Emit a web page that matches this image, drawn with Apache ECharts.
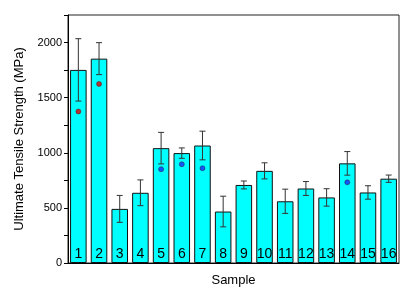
<!DOCTYPE html>
<html>
<head>
<meta charset="utf-8">
<script src="https://cdn.jsdelivr.net/npm/echarts@6/dist/echarts.min.js"></script>
<style>html,body{margin:0;padding:0;background:#fff}#c{width:419px;height:292px}</style>
</head>
<body>
<div id="c"></div>
<script>
const samples = ['1','2','3','4','5','6','7','8','9','10','11','12','13','14','15','16'];
const meanUTS = [1752,1854,491,637,1042,997,1066,467,708,836,560,676,595,904,640,765];
const errUTS  = [283,145,122,117,143,47,130,139,36,73,110,63,79,107,61,33];
const dotUTS  = [1375,1625,null,null,851,896,860,null,null,null,null,null,null,732,null,null];
const dotColor = ['#e00000','#e00000',null,null,'#1030ff','#1030ff','#1030ff',null,null,null,null,null,null,'#1030ff',null,null];
const yTicks = [0,500,1000,1500,2000];

const chart = echarts.init(document.getElementById('c'), null, {renderer:'canvas'});
const font = 'Liberation Sans, Arial, sans-serif';

const errData = samples.map((s,i)=>[i, meanUTS[i]-errUTS[i], meanUTS[i]+errUTS[i]]);
const dotData = samples.map((s,i)=> dotUTS[i]==null ? null : {value:[i, dotUTS[i]], itemStyle:{color:dotColor[i]}}).filter(d=>d);

chart.setOption({
  animation:false,
  grid:{left:68, right:20, top:15, bottom:25, containLabel:false,
    show:true, borderColor:'#222', borderWidth:1, backgroundColor:'transparent'},
  xAxis:{
    type:'category', data:samples,
    axisLine:{onZero:false, lineStyle:{color:'#000', width:1}},
    axisTick:{show:false}, axisLabel:{show:false},
    name:'Sample', nameLocation:'middle', nameGap:11,
    nameTextStyle:{fontFamily:font, fontSize:13, color:'#000'}
  },
  yAxis:{
    type:'value', min:0, max:2250, interval:250,
    axisLine:{show:true, onZero:false, lineStyle:{color:'#000', width:1}},
    axisTick:{show:true, length:4, lineStyle:{color:'#000'}},
    axisLabel:{fontFamily:font, fontSize:11, color:'#000', margin:6,
      formatter:v=> yTicks.indexOf(v)>=0 ? String(v) : ''},
    splitLine:{show:false},
    name:'Ultimate Tensile Strength (MPa)', nameLocation:'middle', nameGap:42,
    nameTextStyle:{fontFamily:font, fontSize:13, color:'#000'}
  },
  series:[{
    type:'bar', data:meanUTS, barCategoryGap:'20%',
    itemStyle:{color:'#00ffff', borderColor:'#111', borderWidth:1},
    label:{show:true, position:'insideBottom', distance:2,
      formatter:p=>p.name, fontFamily:font, fontSize:14, color:'#000'}
  },{
    type:'custom', data:errData,
    renderItem:(params, api)=>{
      const x = api.value(0);
      const lo = api.coord([x, api.value(1)]);
      const hi = api.coord([x, api.value(2)]);
      const cap = 3;
      const st = {stroke:'#333', lineWidth:1};
      return {type:'group', children:[
        {type:'line', shape:{x1:lo[0], y1:lo[1], x2:hi[0], y2:hi[1]}, style:st},
        {type:'line', shape:{x1:lo[0]-cap, y1:lo[1], x2:lo[0]+cap, y2:lo[1]}, style:st},
        {type:'line', shape:{x1:hi[0]-cap, y1:hi[1], x2:hi[0]+cap, y2:hi[1]}, style:st}
      ]};
    },
    z:5
  },{
    type:'scatter', data:dotData, symbolSize:5,
    itemStyle:{borderColor:'#400', borderWidth:0.5}, z:6
  }]
});
</script>
</body>
</html>
